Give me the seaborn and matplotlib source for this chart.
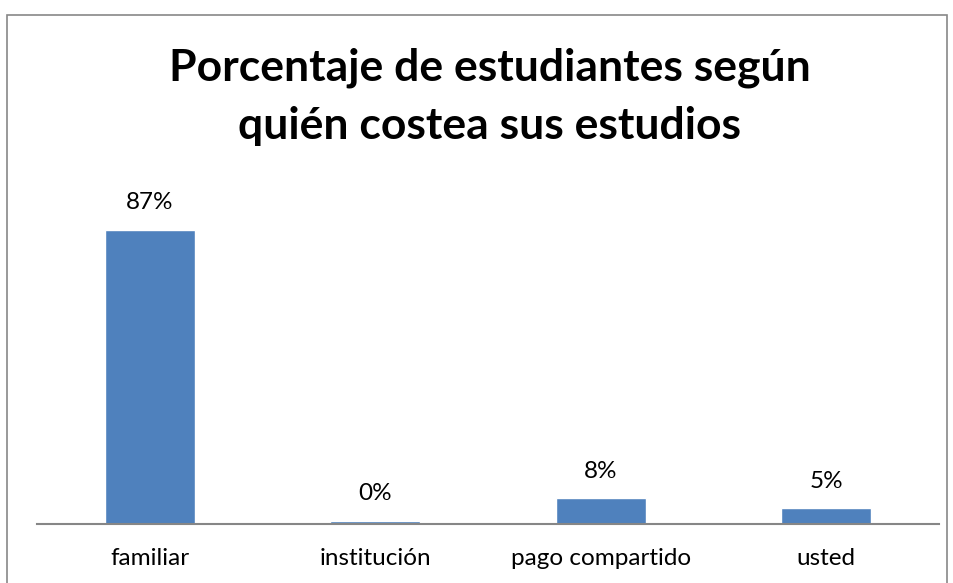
import matplotlib
matplotlib.use("Agg")
import matplotlib.pyplot as plt
import seaborn as sns
from matplotlib.patches import Rectangle

# values (percent)
categorias = ["familiar", "institución", "pago compartido", "usted"]
porcentajes = [87.2, 1.0, 7.6, 4.6]
etiquetas = ["87%", "0%", "8%", "5%"]
titulo = "Porcentaje de estudiantes según\nquién costea sus estudios"

sns.set_style("white")
plt.rcParams['font.family'] = ['Lato', 'DejaVu Sans']
plt.rcParams['text.color'] = "black"
plt.rcParams['xtick.color'] = "black"

fig = plt.figure(figsize=(9.54, 5.83), dpi=100)
ax = fig.add_axes([37 / 954, 59 / 583, 902 / 954, 337 / 583])

sns.barplot(x=categorias, y=porcentajes, color="#4F81BD", saturation=1,
            width=0.4, ax=ax)

for i, v in enumerate(porcentajes):
    ax.annotate(etiquetas[i], (i, v), xytext=(0, 12), textcoords="offset points",
                ha="center", va="bottom", fontsize=17.5)

ax.set_ylim(0, 100)
ax.set_yticks([])
ax.set_ylabel("")
sns.despine(ax=ax, left=True)
ax.spines['bottom'].set_color("#868686")
ax.spines['bottom'].set_linewidth(1.5)
ax.tick_params(axis='x', length=0, pad=17, labelsize=17.5)

# title: baseline of the second line
fig.text(490 / 954, 1 - 139 / 583, titulo, ha="center", va="baseline",
         fontsize=32, fontweight="bold", linespacing=1.55, color="black",
         multialignment="center")

# outer chart frame
fig.patches.append(Rectangle((7.5 / 954, -0.02), 939.5 / 954, 1.02 - 15 / 583,
                             transform=fig.transFigure, fill=False,
                             edgecolor="#888888", linewidth=1.2))

fig.savefig("out.png", dpi=100)
